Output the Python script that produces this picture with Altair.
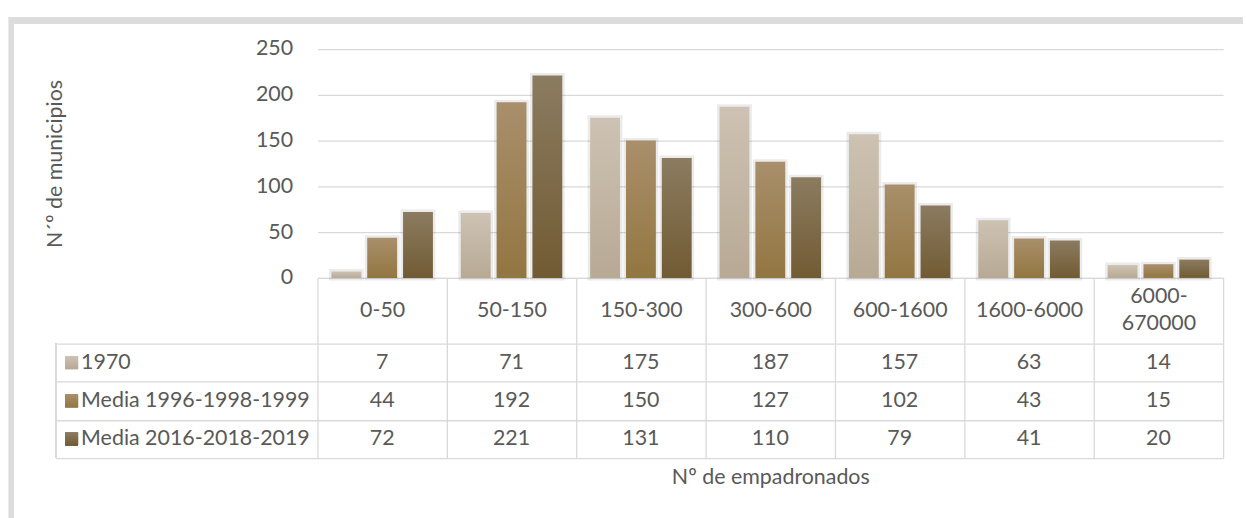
import altair as alt
import pandas as pd

categories = ["0-50", "50-150", "150-300", "300-600", "600-1600", "1600-6000", "6000-670000"]
series = ["1970", "Media 1996-1998-1999", "Media 2016-2018-2019"]
v1970 = [7, 71, 175, 187, 157, 63, 14]
v1996 = [44, 192, 150, 127, 102, 43, 15]
v2016 = [72, 221, 131, 110, 79, 41, 20]
y_ticks = [0, 50, 100, 150, 200, 250]
x_title = "Nº de empadronados"
y_title = "N´º de municipios"

# gradient colours (top, bottom) per series
grad_cols = [("#cdc2b3", "#b7a994"), ("#a98f6b", "#927641"), ("#8b7b60", "#715b33")]

rows = []
for s, vals in zip(series, [v1970, v1996, v2016]):
    for c, v in zip(categories, vals):
        rows.append({"cat": c, "serie": s, "valor": v})
df = pd.DataFrame(rows)

GRID = "#d9d9d9"
TXT = "#595959"
FONT = "Lato"
FS = 21.5
W, H = 910, 230
HEADER = 66
TH = 115
LEGW = 263


def grad(top, bottom):
    return alt.Gradient(
        gradient="linear",
        stops=[alt.GradientStop(color=top, offset=0), alt.GradientStop(color=bottom, offset=1)],
        x1=0, x2=0, y1=0, y2=1,
    )


xscale = alt.Scale(domain=categories, paddingInner=0, paddingOuter=0)

bar_base = alt.Chart(df).encode(
    x=alt.X("cat:N", sort=categories, scale=xscale,
            axis=alt.Axis(title=None, labelAngle=0, tickBand="extent", tickSize=HEADER,
                          tickColor=GRID, tickWidth=1.3, domainColor=GRID, domainWidth=1.3,
                          labelBaseline="middle",
                          labelPadding={"condition": {"test": "datum.value == '6000-670000'", "value": -47},
                                        "value": -33},
                          labelFont=FONT, labelFontSize=FS, labelColor=TXT,
                          labelLineHeight=27, labelOverlap=False, labelLimit=0,
                          labelExpr="datum.label == '6000-670000' ? ['6000-', '670000'] : datum.label",
                          grid=False)),
    xOffset=alt.XOffset("serie:N", sort=series,
                        scale=alt.Scale(domain=series, paddingInner=6 / 36, paddingOuter=14 / 36)),
    y=alt.Y("valor:Q", scale=alt.Scale(domain=[0, 250]),
            axis=alt.Axis(values=y_ticks, title=y_title, grid=True, gridColor=GRID, gridWidth=1.3,
                          domain=False, ticks=False, labelPadding=25,
                          labelFont=FONT, labelFontSize=FS, labelColor=TXT,
                          titleFont=FONT, titleFontSize=FS, titleColor=TXT, titleFontWeight="normal",
                          titleAngle=270, titleAlign="center", titleBaseline="bottom",
                          titleX=-252, titleY=H / 2)),
)

# soft halo imitating the shadow of the original bars
halo = bar_base.mark_bar(fill=None, stroke="#000000", strokeOpacity=0.08, strokeWidth=5)

bar_layers = [
    bar_base.transform_filter(alt.datum.serie == s).mark_bar(fill=grad(t, b))
    for s, (t, b) in zip(series, grad_cols)
]

frame_top = alt.Chart(df).mark_rule(color="#dcdcdc", strokeWidth=6, strokeCap="butt").encode(
    x=alt.value(-310), x2=alt.value(930), y=alt.value(-29))
frame_left = alt.Chart(df).mark_rule(color="#dcdcdc", strokeWidth=5, strokeCap="butt").encode(
    x=alt.value(-307.5), y=alt.value(-32), y2=alt.value(473))

bars = alt.layer(frame_top, frame_left, halo, *bar_layers).properties(width=W, height=H)

# ---- data table ----
tab_base = alt.Chart(df).encode(
    x=alt.X("cat:N", sort=categories, scale=xscale,
            axis=alt.Axis(title=x_title, labels=False, ticks=False, domain=False,
                          grid=True, gridColor=GRID, gridWidth=1.3, tickBand="extent",
                          titleFont=FONT, titleFontSize=FS, titleColor=TXT,
                          titleFontWeight="normal", titlePadding=9)),
    y=alt.Y("serie:N", sort=series, scale=alt.Scale(domain=series, paddingInner=0, paddingOuter=0),
            axis=alt.Axis(title=None, grid=True, gridColor=GRID, gridWidth=1.3, tickBand="extent",
                          tickSize=LEGW, tickColor=GRID, tickWidth=1.3, domain=False,
                          labelAlign="left", labelBaseline="middle", labelPadding=-25,
                          labelFont=FONT, labelFontSize=FS, labelColor=TXT, labelLimit=0)),
)

cells = tab_base.mark_text(font=FONT, fontSize=FS, color=TXT).encode(text="valor:Q")

squares = [
    tab_base.transform_filter(alt.datum.serie == s)
    .mark_square(size=165, fill=grad(t, b), opacity=1, strokeWidth=0)
    .encode(x=alt.value(-247))
    for s, (t, b) in zip(series, grad_cols)
]

leg_left = alt.Chart(df).mark_rule(color=GRID, strokeWidth=1.3).encode(
    x=alt.value(-LEGW), y=alt.value(0), y2=alt.value(TH))

table = alt.layer(cells, *squares, leg_left).properties(width=W, height=TH)

chart = (
    alt.vconcat(bars, table, spacing=HEADER, bounds="flush")
    .configure_view(stroke=None)
    .properties(padding={"left": 6, "top": 13, "right": 0, "bottom": 0}, background="white")
)

chart.save("out.html", embed_options={"renderer": "svg", "actions": False})
